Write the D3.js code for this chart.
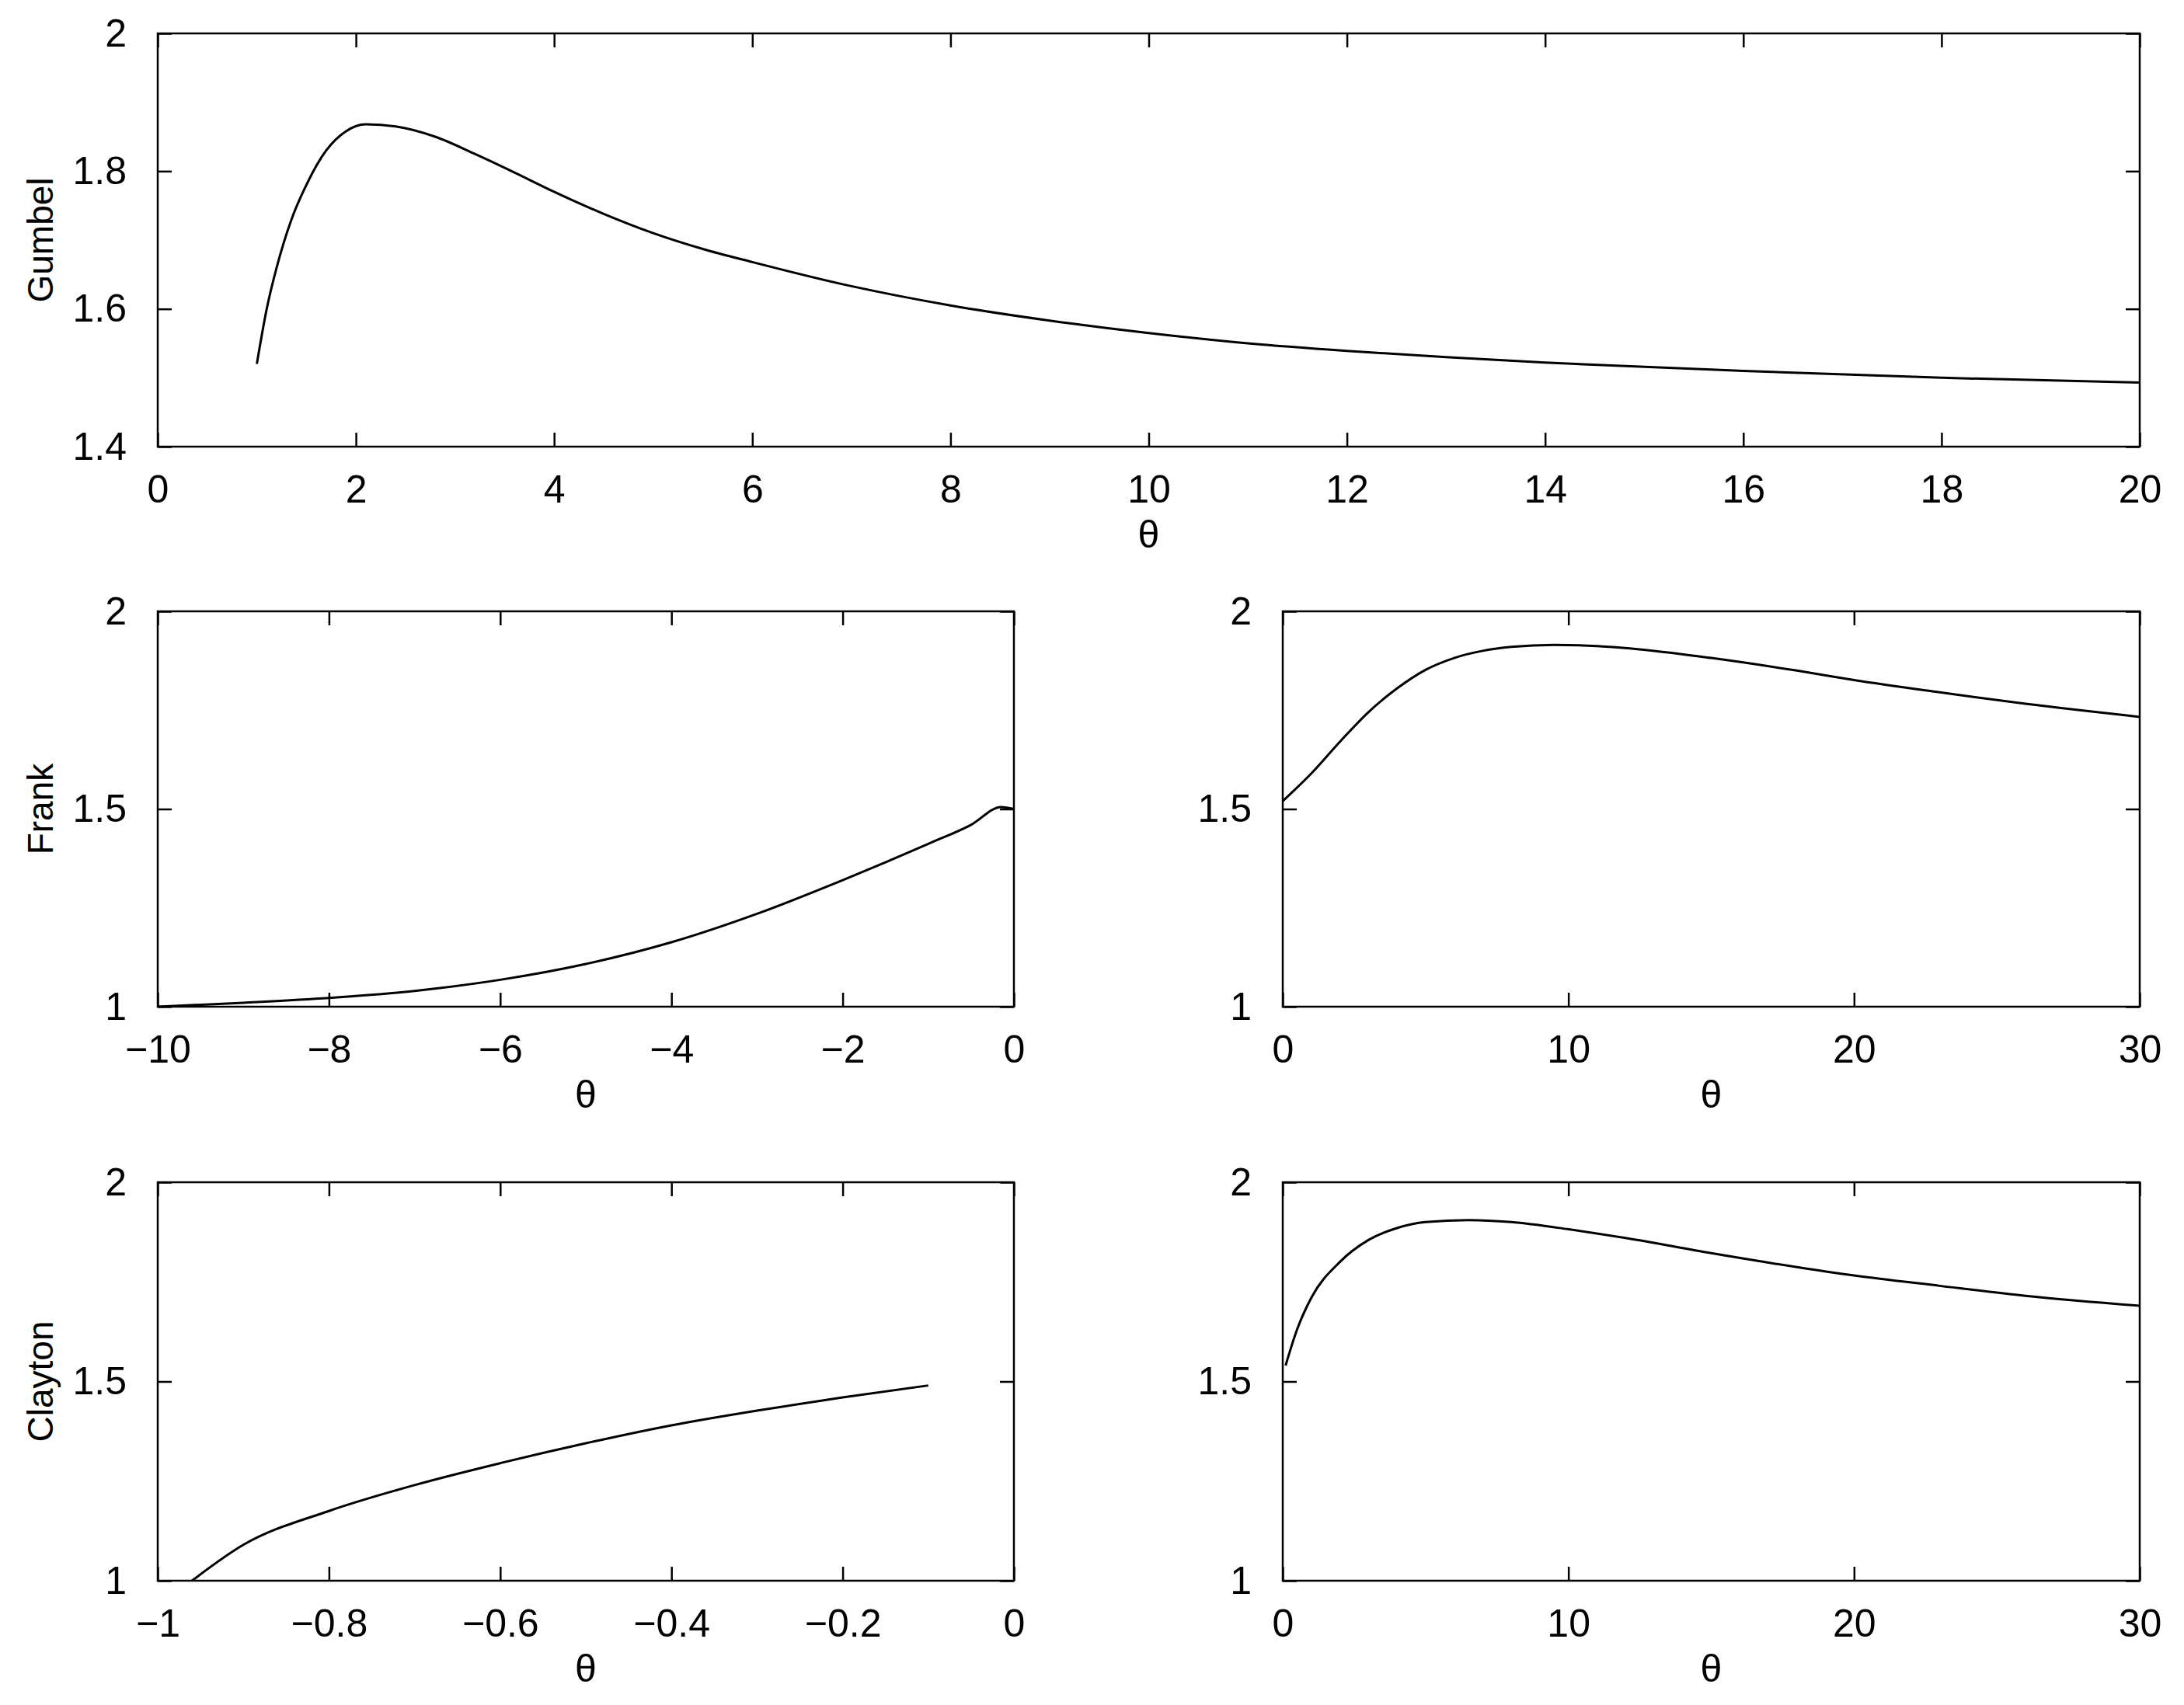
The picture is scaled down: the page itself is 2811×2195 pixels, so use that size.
<!DOCTYPE html>
<html><head><meta charset="utf-8">
<script src="https://cdn.jsdelivr.net/npm/d3@7"></script>
<style>body{margin:0;background:#fff}text{font-family:"Liberation Sans",Arial,sans-serif}</style>
</head><body>
<svg id="svg" width="2811" height="2195"></svg>
<script>
// values
const gumbelX = [1, 1.1, 1.2, 1.35, 1.5, 1.7, 1.9, 2.1, 2.4, 2.8, 3.2, 3.6, 4, 4.5, 5, 5.5, 6, 7, 8, 9, 10, 11, 12, 13, 14, 16, 18, 20];
const gumbelY = [1.52, 1.6, 1.66, 1.73, 1.78, 1.83, 1.858, 1.868, 1.865, 1.85, 1.825, 1.798, 1.77, 1.738, 1.71, 1.687, 1.668, 1.633, 1.605, 1.583, 1.565, 1.55, 1.539, 1.53, 1.522, 1.51, 1.5, 1.493];
const frankNegX = [-10, -9, -8, -7, -6, -5, -4, -3, -2, -1.5, -1, -0.5, -0.15, 0];
const frankNegY = [1.0, 1.01, 1.022, 1.04, 1.068, 1.108, 1.163, 1.235, 1.32, 1.365, 1.412, 1.46, 1.505, 1.5];
const frankPosX = [0, 1, 2, 3, 4, 5, 6, 7, 8, 9.5, 11, 13, 15, 18, 20, 23, 26, 30];
const frankPosY = [1.52, 1.59, 1.67, 1.745, 1.805, 1.852, 1.882, 1.9, 1.91, 1.915, 1.912, 1.9, 1.882, 1.85, 1.826, 1.795, 1.766, 1.733];
const claytonNegX = [-0.96, -0.9, -0.8, -0.7, -0.6, -0.5, -0.4, -0.3, -0.2, -0.1];
const claytonNegY = [1.0, 1.09, 1.175, 1.24, 1.295, 1.345, 1.39, 1.427, 1.46, 1.49];
const claytonPosX = [0.1, 0.5, 1, 2, 3, 4, 5, 6.5, 8, 10, 12, 15, 18, 20, 23, 26, 30];
const claytonPosY = [1.54, 1.63, 1.71, 1.8, 1.855, 1.885, 1.9, 1.905, 1.9, 1.882, 1.86, 1.822, 1.787, 1.766, 1.74, 1.715, 1.69];

const panels = [
  {x0: 203, x1: 2754, y0: 43, y1: 575, xd: [0, 20], yd: [1.4, 2], xt: d3.range(0, 21, 2), yt: [1.4, 1.6, 1.8, 2], xs: gumbelX, ys: gumbelY, label: "Gumbel"},
  {x0: 203, x1: 1305, y0: 787, y1: 1296, xd: [-10, 0], yd: [1, 2], xt: [-10, -8, -6, -4, -2, 0], yt: [1, 1.5, 2], xs: frankNegX, ys: frankNegY, label: "Frank"},
  {x0: 1651, x1: 2754, y0: 787, y1: 1296, xd: [0, 30], yd: [1, 2], xt: [0, 10, 20, 30], yt: [1, 1.5, 2], xs: frankPosX, ys: frankPosY},
  {x0: 203, x1: 1305, y0: 1522, y1: 2035, xd: [-1, 0], yd: [1, 2], xt: [-1, -0.8, -0.6, -0.4, -0.2, 0], yt: [1, 1.5, 2], xs: claytonNegX, ys: claytonNegY, label: "Clayton"},
  {x0: 1651, x1: 2754, y0: 1522, y1: 2035, xd: [0, 30], yd: [1, 2], xt: [0, 10, 20, 30], yt: [1, 1.5, 2], xs: claytonPosX, ys: claytonPosY}
];

const svg = d3.select("#svg");
const fmt = d => String(d).replace("-", "\u2212");
const tk = 18;
const fs = 50;

panels.forEach(p => {
  const x = d3.scaleLinear().domain(p.xd).range([p.x0, p.x1]);
  const y = d3.scaleLinear().domain(p.yd).range([p.y1, p.y0]);
  const g = svg.append("g");
  g.append("rect").attr("x", p.x0).attr("y", p.y0).attr("width", p.x1 - p.x0).attr("height", p.y1 - p.y0)
    .attr("fill", "none").attr("stroke", "#000").attr("stroke-width", 2.5);

  const axes = [
    d3.axisBottom(x).tickValues(p.xt).tickSize(-tk).tickPadding(36).tickFormat(fmt),
    d3.axisTop(x).tickValues(p.xt).tickSize(-tk).tickFormat(""),
    d3.axisLeft(y).tickValues(p.yt).tickSize(-tk).tickPadding(40).tickFormat(d3.format("")),
    d3.axisRight(y).tickValues(p.yt).tickSize(-tk).tickFormat("")
  ];
  const pos = [`translate(0,${p.y1})`, `translate(0,${p.y0})`, `translate(${p.x0},0)`, `translate(${p.x1},0)`];
  axes.forEach((a, i) => {
    const ag = g.append("g").attr("transform", pos[i]).call(a);
    ag.select(".domain").remove();
    ag.selectAll("line").attr("stroke", "#000").attr("stroke-width", 2.5);
    ag.selectAll("text").attr("fill", "#000").attr("font-size", fs);
  });

  g.append("text").attr("x", (p.x0 + p.x1) / 2).attr("y", p.y1 + 130).attr("text-anchor", "middle")
    .attr("font-size", fs).attr("font-family", "'Liberation Serif',serif").text("θ");
  if (p.label) {
    g.append("text").attr("transform", `translate(68,${(p.y0 + p.y1) / 2}) rotate(-90)`)
      .attr("text-anchor", "middle").attr("font-size", 46).text(p.label);
  }

  const pts = p.xs.map((v, i) => [v, p.ys[i]]);
  g.append("path").datum(pts)
    .attr("d", d3.line().x(d => x(d[0])).y(d => y(d[1])).curve(d3.curveMonotoneX))
    .attr("fill", "none").attr("stroke", "#000").attr("stroke-width", 3);
});
</script>
</body></html>
